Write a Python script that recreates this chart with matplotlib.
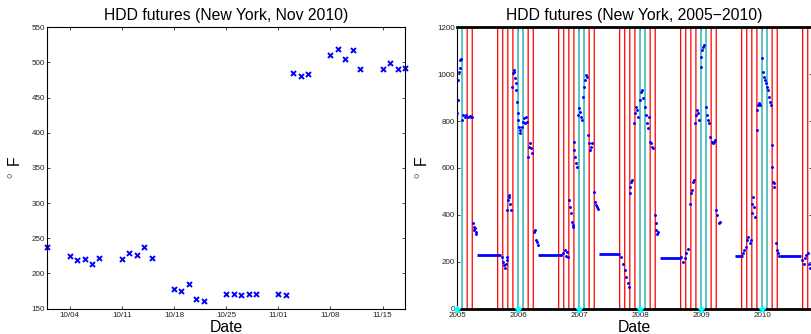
import numpy as np
import matplotlib
matplotlib.use('agg')
import matplotlib.pyplot as plt
import matplotlib.dates as mdates

plt.rcParams['font.family'] = ['Liberation Sans', 'DejaVu Sans']
plt.rcParams['mathtext.fontset'] = 'custom'
plt.rcParams['mathtext.rm'] = 'Liberation Sans'

# ---- Nov 2010 contract, daily settle (left panel)
nov_dates = ['2010-10-01', '2010-10-04', '2010-10-05', '2010-10-06', '2010-10-07', '2010-10-08',
             '2010-10-11', '2010-10-12', '2010-10-13', '2010-10-14', '2010-10-15',
             '2010-10-18', '2010-10-19', '2010-10-20', '2010-10-21', '2010-10-22',
             '2010-10-25', '2010-10-26', '2010-10-27', '2010-10-28', '2010-10-29',
             '2010-11-01', '2010-11-02', '2010-11-03', '2010-11-04', '2010-11-05',
             '2010-11-08', '2010-11-09', '2010-11-10', '2010-11-11', '2010-11-12',
             '2010-11-15', '2010-11-16', '2010-11-17', '2010-11-18']
nov_hdd = [238, 225, 219, 220.5, 213, 221.5,
           221, 228.5, 226, 237, 222,
           178, 175, 185, 163, 161,
           171, 171, 168.5, 171, 170,
           170, 169, 484.5, 480.5, 483.5,
           510.5, 519, 505.5, 517.5, 490.5,
           490.5, 499, 490.5, 491.5]
nov_ticks = ['2010-10-04', '2010-10-11', '2010-10-18', '2010-10-25',
             '2010-11-01', '2010-11-08', '2010-11-15']

# ---- all contracts 2005-2010 (right panel), x in decimal years
t_2005 = [2005.005, 2005.011, 2005.022, 2005.033, 2005.044, 2005.055, 2005.060,
          2005.082, 2005.098, 2005.126, 2005.153, 2005.180, 2005.208, 2005.235, 2005.251,
          2005.262, 2005.273, 2005.284, 2005.295, 2005.306, 2005.317]
v_2005 = [833, 890, 975, 1010, 1025, 1060, 1063,
          804, 826, 818, 826, 816, 821, 816, 818,
          366, 349, 335, 342, 320, 327]

t_0506 = [2005.732, 2005.754, 2005.770, 2005.787, 2005.803, 2005.814, 2005.825,
          2005.825, 2005.836, 2005.847, 2005.858, 2005.869, 2005.880,
          2005.907, 2005.918, 2005.929, 2005.940, 2005.951, 2005.962, 2005.973,
          2005.984, 2005.995, 2006.005, 2006.016, 2006.027, 2006.038,
          2006.060, 2006.077, 2006.093, 2006.109, 2006.126, 2006.142,
          2006.164, 2006.180, 2006.197, 2006.213, 2006.230,
          2006.257, 2006.273, 2006.290, 2006.306, 2006.322]
v_0506 = [221, 199, 185, 171, 192, 206, 221,
          420, 463, 477, 484, 448, 420,
          947, 1004, 1018, 1011, 982, 961, 932,
          883, 833, 804, 776, 762, 747,
          776, 797, 811, 790, 818, 797,
          648, 690, 705, 683, 662,
          327, 335, 292, 285, 270]

t_0607 = [2006.710, 2006.738, 2006.765, 2006.781, 2006.803, 2006.825,
          2006.836, 2006.847, 2006.863, 2006.880, 2006.896, 2006.907,
          2006.913, 2006.923, 2006.934, 2006.951, 2006.967,
          2006.989, 2007.000, 2007.016, 2007.033, 2007.049,
          2007.066, 2007.082, 2007.098, 2007.115, 2007.131,
          2007.153, 2007.169, 2007.186, 2007.202, 2007.219,
          2007.240, 2007.257, 2007.273, 2007.290, 2007.311]
v_0607 = [228, 235, 249, 223, 242, 218,
          463, 434, 406, 370, 356, 349,
          712, 676, 648, 619, 605,
          826, 854, 840, 818, 804,
          904, 947, 975, 996, 989,
          740, 705, 676, 690, 705,
          498, 456, 441, 434, 423]

t_0708 = [2007.694, 2007.721, 2007.749, 2007.776, 2007.803, 2007.825,
          2007.831, 2007.842, 2007.858, 2007.869,
          2007.896, 2007.913, 2007.929, 2007.951, 2007.973,
          2008.000, 2008.016, 2008.033, 2008.049,
          2008.082, 2008.098, 2008.115, 2008.131, 2008.148,
          2008.169, 2008.186, 2008.202, 2008.219,
          2008.246, 2008.257, 2008.268, 2008.284, 2008.301]
v_0708 = [221, 192, 164, 135, 107, 93,
          491, 520, 541, 548,
          790, 833, 861, 847, 818,
          890, 925, 932, 897,
          861, 826, 790, 769, 818,
          712, 705, 690, 683,
          399, 363, 335, 320, 327]

t_0809 = [2008.650, 2008.678, 2008.705, 2008.732, 2008.760, 2008.792,
          2008.820, 2008.836, 2008.852, 2008.869, 2008.885,
          2008.907, 2008.923, 2008.940, 2008.956, 2008.973,
          2008.995, 2009.005, 2009.022, 2009.038, 2009.055,
          2009.077, 2009.093, 2009.109, 2009.126,
          2009.153, 2009.175, 2009.197, 2009.219, 2009.235,
          2009.251, 2009.268, 2009.290, 2009.311]
v_0809 = [214, 221, 199, 214, 235, 256,
          448, 491, 505, 541, 548,
          790, 826, 847, 833, 804,
          1032, 1075, 1103, 1117, 1125,
          861, 826, 804, 790,
          733, 712, 705, 712, 719,
          420, 399, 363, 370]

t_0910 = [2009.689, 2009.710, 2009.732, 2009.754, 2009.776, 2009.798, 2009.820,
          2009.831, 2009.842, 2009.852, 2009.869, 2009.880,
          2009.913, 2009.923, 2009.940, 2009.956, 2009.973,
          2010.000, 2010.016, 2010.033, 2010.049, 2010.071, 2010.087,
          2010.104, 2010.115, 2010.126, 2010.142,
          2010.158, 2010.169, 2010.180, 2010.191, 2010.202,
          2010.224, 2010.240, 2010.257, 2010.273]
v_0910 = [235, 249, 263, 292, 306, 278, 292,
          406, 448, 477, 434, 391,
          762, 847, 868, 875, 868,
          1068, 1011, 989, 975, 961, 947,
          932, 904, 883, 868,
          698, 605, 541, 520, 534,
          278, 249, 235, 223]

t_1011 = [2010.661, 2010.683, 2010.705, 2010.727, 2010.749, 2010.770, 2010.792]
v_1011 = [206, 192, 214, 228, 235, 192, 171]

# summer stretches where the quote sits flat
flat_start = [2005.333, 2006.328, 2007.328, 2008.322, 2009.552, 2010.290]
flat_end = [2005.727, 2006.710, 2007.678, 2008.661, 2009.689, 2010.645]
flat_level = [228, 228, 232, 216, 222, 222]

season_years = [2004, 2005, 2006, 2007, 2008, 2009, 2010]
fall_months = [9, 10, 11, 12]
spring_months = [1, 2, 3, 4]
peak_months = [1, 2]
year_ticks = [2005, 2006, 2007, 2008, 2009, 2010]

TICK_FS = 5.8
LABEL_FS = 11.3


def style_axes(ax):
    ax.tick_params(direction='in', length=2.2, width=0.6, labelsize=TICK_FS,
                   top=True, right=True, colors='#222222')
    ax.tick_params(axis='x', pad=2.5)
    ax.tick_params(axis='y', pad=1.5)
    ax.set_xlabel('Date', fontsize=LABEL_FS, labelpad=1.0)
    ax.set_ylabel(r'$^\circ$ F', fontsize=LABEL_FS)


fig = plt.figure(figsize=(8.12, 3.34), dpi=100)

# left: Nov 2010 contract
ax1 = fig.add_axes([47.3 / 812, 25.5 / 334, 357.7 / 812, 281.2 / 334])
ax1.plot(np.array(nov_dates, dtype='datetime64[D]'), nov_hdd, 'x', color='#0000ff',
         ms=3.6, mew=1.4, clip_on=False)
ax1.set_xlim(np.datetime64('2010-10-01'), np.datetime64('2010-11-18'))
ax1.set_ylim(150, 550)
ax1.set_yticks(np.arange(150, 551, 50))
ax1.set_xticks(np.array(nov_ticks, dtype='datetime64[D]'))
ax1.xaxis.set_major_formatter(mdates.DateFormatter('%m/%d'))
ax1.set_title('HDD futures (New York, Nov 2010)', fontsize=LABEL_FS, pad=5.5)
style_axes(ax1)
ax1.yaxis.set_label_coords(-0.068, 0.5)
for s in ax1.spines.values():
    s.set_linewidth(0.8)

# right: all contracts 2005-2010
ax2 = fig.add_axes([457 / 812, 25.5 / 334, 355 / 812, 281.2 / 334])
for y in season_years:
    for m in fall_months:
        ax2.axvline(y + (m - 1) / 12, color='#ff0000', lw=0.9, snap=False, zorder=1)
    for m in spring_months:
        ax2.axvline(y + 1 + (m - 1) / 12, color='#ff0000', lw=0.9, snap=False, zorder=1)
    for m in peak_months:
        ax2.axvline(y + 1 + (m - 1) / 12, color='#00ffff', lw=0.9, snap=False, zorder=2)

ax2.hlines(flat_level, flat_start, flat_end, color='#0000ff', lw=2.0, zorder=3)
for t, v in [(t_2005, v_2005), (t_0506, v_0506), (t_0607, v_0607), (t_0708, v_0708),
             (t_0809, v_0809), (t_0910, v_0910), (t_1011, v_1011)]:
    ax2.plot(t, v, '.', color='#0000ff', ms=2.2, zorder=4)
ax2.plot(year_ticks, np.zeros(len(year_ticks)), '*', color='#00ffff', ms=5.0,
         zorder=5, clip_on=False)

ax2.set_xlim(2005, 2010.82)
ax2.set_ylim(0, 1200)
ax2.set_yticks(np.arange(0, 1201, 200))
ax2.set_xticks(year_ticks)
ax2.set_xticklabels([str(y) for y in year_ticks])
ax2.set_title('HDD futures (New York, 2005\u22122010)', fontsize=LABEL_FS, pad=5.5)
style_axes(ax2)
ax2.yaxis.set_label_coords(-0.076, 0.5)
for s in ax2.spines.values():
    s.set_linewidth(0.8)
ax2.spines['top'].set_linewidth(2.0)
ax2.spines['bottom'].set_linewidth(2.0)

fig.savefig('out.png', dpi=100)
